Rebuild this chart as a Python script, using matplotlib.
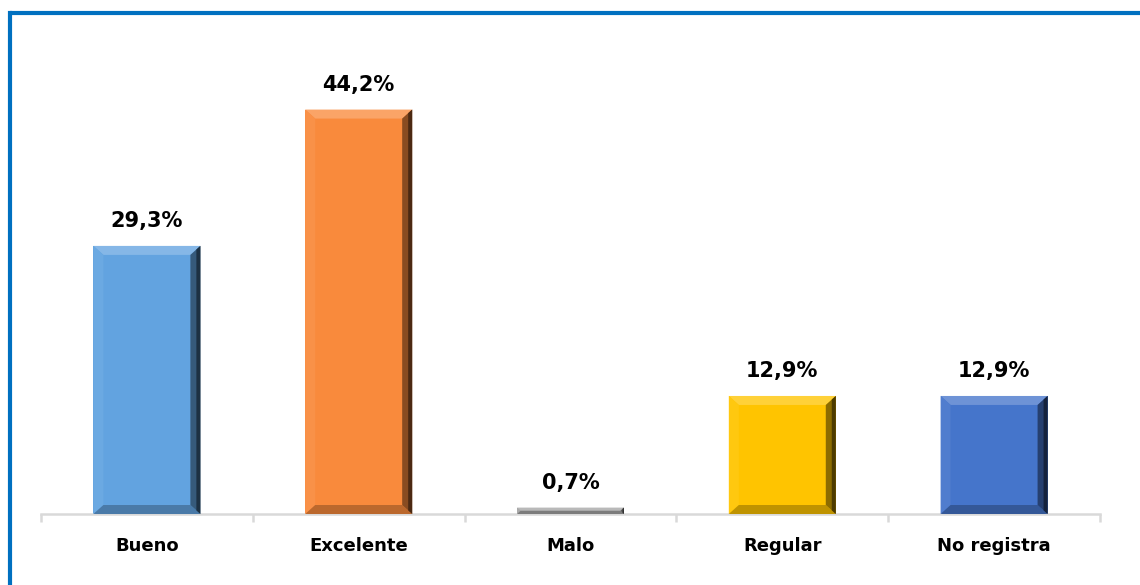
import matplotlib.pyplot as plt
from matplotlib.patches import Polygon
from matplotlib.lines import Line2D
import matplotlib.colors as mcolors

# Datos del grafico
categorias = ["Bueno", "Excelente", "Malo", "Regular", "No registra"]
porcentajes = [29.3, 44.2, 0.7, 12.9, 12.9]
etiquetas = ["29,3%", "44,2%", "0,7%", "12,9%", "12,9%"]
colores = ["#62A3E0", "#F98A3C", "#A5A5A5", "#FFC400", "#4575CB"]

fuente = ["DejaVu Sans"]


def mezclar(color, otro, t):
    c = mcolors.to_rgb(color)
    o = mcolors.to_rgb(otro)
    return tuple(a * (1 - t) + b * t for a, b in zip(c, o))


fig = plt.figure(figsize=(11.4, 5.85), dpi=100)
ax = fig.add_axes([41 / 1140, 71 / 585, 1059 / 1140, 457.5 / 585])

barras = ax.bar(range(len(categorias)), porcentajes, width=0.505, color=colores, zorder=2)
ax.set_xlim(-0.5, len(categorias) - 0.5)
ax.set_ylim(0, 50)

# efecto de bisel en cada barra
dx = 10 / 211.8
dy_base = 9 / 9.15
for barra, color in zip(barras, colores):
    x0 = barra.get_x()
    x1 = x0 + barra.get_width()
    y1 = barra.get_height()
    dy = min(dy_base, y1 / 2)
    ddx = dx if dy == dy_base else dx * dy / dy_base
    caras = [
        ([(x0, y1), (x1, y1), (x1 - ddx, y1 - dy), (x0 + ddx, y1 - dy)], mezclar(color, "white", 0.22)),
        ([(x0, 0), (x0, y1), (x0 + ddx, y1 - dy), (x0 + ddx, dy)], mezclar(color, "white", 0.06)),
        ([(x0, 0), (x1, 0), (x1 - ddx, dy), (x0 + ddx, dy)], mezclar(color, "black", 0.25)),
        ([(x1, 0), (x1, y1), (x1 - ddx, y1 - dy), (x1 - ddx, dy)], mezclar(color, "black", 0.45)),
    ]
    for pts, c in caras:
        ax.add_patch(Polygon(pts, closed=True, facecolor=c, edgecolor="none", zorder=3))
    # borde derecho mas oscuro
    ax.add_patch(Polygon([(x1, 0), (x1, y1), (x1 - ddx * 0.4, y1 - dy * 0.4), (x1 - ddx * 0.4, dy * 0.4)],
                         closed=True, facecolor=mezclar(color, "black", 0.7), edgecolor="none", zorder=4))

for barra, texto in zip(barras, etiquetas):
    ax.text(barra.get_x() + barra.get_width() / 2, barra.get_height() + 1.6, texto,
            ha="center", va="bottom", fontsize=15, fontweight="bold", family=fuente)

for s in ["top", "right", "left"]:
    ax.spines[s].set_visible(False)
ax.spines["bottom"].set_color("#D9D9D9")
ax.spines["bottom"].set_linewidth(1.8)
ax.set_yticks([])

ax.set_xticks([i - 0.5 for i in range(len(categorias) + 1)], minor=False)
ax.set_xticklabels([])
ax.tick_params(axis="x", length=6, width=1.8, color="#D9D9D9")
for i, cat in enumerate(categorias):
    ax.text(i, -3.5, cat, ha="center", va="center", fontsize=13, fontweight="bold", family=fuente)

# marco azul (arriba e izquierda)
fig.add_artist(Line2D([10 / 1140, 1], [1 - 13 / 585, 1 - 13 / 585], color="#0070C0", linewidth=3,
                      solid_capstyle="butt"))
fig.add_artist(Line2D([10 / 1140, 10 / 1140], [0, 1 - 13 / 585], color="#0070C0", linewidth=3,
                      solid_capstyle="projecting"))

fig.savefig("out.png", dpi=100)
